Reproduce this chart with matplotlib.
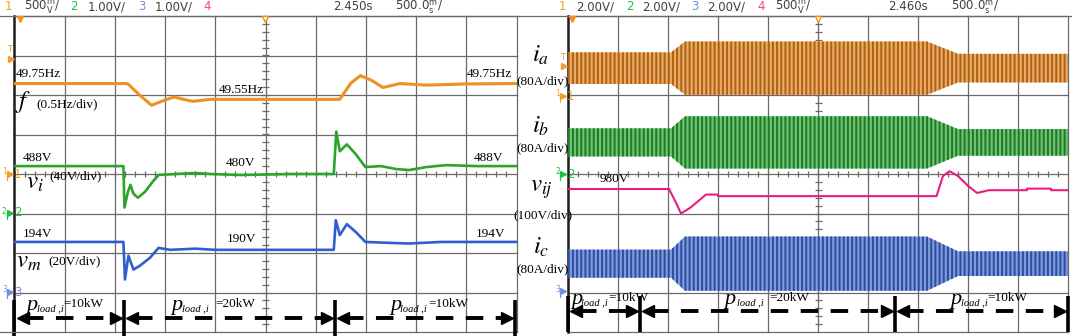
import numpy as np
import matplotlib.pyplot as plt

plt.rcParams['mathtext.fontset'] = 'stix'
plt.rcParams['font.family'] = 'Liberation Serif'
plt.rcParams['hatch.linewidth'] = 1.4

W, H = 1072, 336

# time is in screen divisions (500 ms/div, 10 div)
# left scope: frequency, inverter voltage, microgrid voltage
f_t = [0, 2.25, 2.5, 2.73, 2.95, 3.18, 3.4, 3.56, 3.9, 6.48, 6.7, 6.89, 7.1, 7.34, 7.68, 8.2, 9.0, 10]
f_hz = [49.75, 49.75, 49.6, 49.475, 49.53, 49.58, 49.545, 49.525, 49.55, 49.55, 49.755, 49.85,
        49.795, 49.70, 49.75, 49.73, 49.745, 49.75]

vi_t = [0, 2.17, 2.19, 2.26, 2.31, 2.37, 2.46, 2.6, 2.75, 2.87, 3.2, 3.6, 3.9, 4.5, 5.5, 6.36,
        6.41, 6.48, 6.62, 6.8, 6.99, 7.3, 7.6, 7.86, 8.2, 8.6, 9.2, 10]
vi_v = [488, 488, 446, 462, 469, 460, 456, 462, 472, 479, 480, 481, 480, 479, 480, 480,
        523, 503, 510, 500, 487, 488, 485, 484, 487, 489, 488, 488]

vm_t = [0, 2.17, 2.2, 2.27, 2.37, 2.5, 2.7, 2.87, 3.1, 3.6, 4.0, 6.36, 6.4, 6.48, 6.62, 6.8,
        6.99, 7.5, 7.86, 8.5, 10]
vm_v = [194, 194, 175, 187, 180, 182, 186, 191, 190, 190.6, 190, 190, 205, 197.5, 203, 199,
        194, 193.5, 193.2, 194, 194]

load_left = [0, 2.18, 6.39, 9.98]
load_left_kw = [10, 20, 10]

# right scope: phase currents (peak, A) and dc-link voltage
env_t = [0, 2.06, 2.34, 7.18, 7.8, 10]
ia_amp = [32, 32, 54, 54, 29, 29]
ib_amp = [28.5, 28.5, 53, 53, 27, 27]
ic_amp = [28.5, 28.5, 55, 55, 25, 25]

vij_t = [0, 2.02, 2.15, 2.26, 2.45, 2.76, 3.0, 3.0, 7.37, 7.5, 7.63, 7.8, 8.0, 8.18, 8.42,
         9.18, 9.18, 9.66, 9.66, 10]
vij_v = [980, 980, 948, 918, 933, 966, 966, 962, 962, 1013, 1025, 1013, 988, 970, 977,
         977, 981, 981, 977, 977]

load_right = [0, 1.44, 6.54, 10]
load_right_kw = [10, 20, 10]

# channel settings: (value, screen position in div, units per div)
f_ref = (49.75, 6.29, 0.5)
vi_ref = (488, 4.2, 40)
vm_ref = (194, 2.28, 20)
vij_ref = (980, 3.62, 100)
ia_pos, ib_pos, ic_pos = 6.68, 4.80, 1.73
amp_per_div = 80


def to_div(vals, ref):
    v0, d0, per = ref
    return d0 + (np.array(vals, dtype=float) - v0) / per


fig = plt.figure(figsize=(W / 100, H / 100), dpi=100)


def panel(x0, y0, x1, y1):
    return fig.add_axes([x0 / W, 1 - y1 / H, (x1 - x0) / W, (y1 - y0) / H])


def scope_grid(ax):
    ax.set_xlim(0, 10)
    ax.set_ylim(0, 8)
    ax.axis('off')
    gc = '#6a6a6a'
    for i in range(11):
        ax.plot([i, i], [0, 8], color=gc, lw=0.9, clip_on=False, zorder=1)
    for j in range(9):
        ax.plot([0, 10], [j, j], color=gc, lw=0.9, clip_on=False, zorder=1)
    ax.plot([0, 0], [0, 8], color='#202020', lw=1.8, clip_on=False, zorder=1)
    ax.vlines(np.arange(0.2, 10, 0.2), 3.93, 4.07, color=gc, lw=0.9, zorder=1)
    ax.hlines(np.arange(0.2, 8, 0.2), 4.93, 5.07, color=gc, lw=0.9, zorder=1)


def loads(ax, steps, y, ytop, ybot):
    for s in steps:
        ax.plot([s, s], [ybot, ytop], color='k', lw=2.6, clip_on=False, zorder=6,
                solid_capstyle='butt')
    for a, b in zip(steps[:-1], steps[1:]):
        ax.plot([a + 0.22, b - 0.22], [y, y], color='k', lw=2.8, ls=(0, (4.5, 3.2)),
                clip_on=False, zorder=6, dash_capstyle='butt')
        ax.plot(a + 0.16, y, marker='<', ms=9, color='k', clip_on=False, zorder=6)
        ax.plot(b - 0.16, y, marker='>', ms=9, color='k', clip_on=False, zorder=6)


axL = panel(14.5, 16, 516.5, 332)
axR = panel(568, 16, 1068, 332)
scope_grid(axL)
scope_grid(axR)

axL.plot(f_t, to_div(f_hz, f_ref), color='#f0901e', lw=2.2, zorder=3)
axL.plot(vi_t, to_div(vi_v, vi_ref), color='#2aa52a', lw=1.9, zorder=3)
axL.plot(vm_t, to_div(vm_v, vm_ref), color='#2f5fcf', lw=1.9, zorder=3)
loads(axL, load_left, 0.36, 0.8, -0.1)

for pos, amp, light, dark in [(ia_pos, ia_amp, '#e8ab68', '#b0600f'),
                              (ib_pos, ib_amp, '#70c270', '#1a7a25'),
                              (ic_pos, ic_amp, '#7f9cd8', '#2a4ca5')]:
    a = np.array(amp) / amp_per_div
    axR.fill_between(env_t, pos - a, pos + a, facecolor=light, edgecolor=dark,
                     hatch='||||', lw=0, zorder=3)
axR.plot(vij_t, to_div(vij_v, vij_ref), color='#ec1c7c', lw=1.5, zorder=4)
loads(axR, load_right, 0.52, 0.9, 0)

# overlay in pixel coordinates for the scope labels
ov = fig.add_axes([0, 0, 1, 1])
ov.set_xlim(0, W)
ov.set_ylim(H, 0)
ov.axis('off')
ov.plot([0, W], [16, 16], color='#6a6a6a', lw=0.9)
ov.plot([0, 14.5], [332, 332], color='#6a6a6a', lw=0.9)

hdr = dict(fontsize=8.5, va='center', ha='left', family=['Liberation Sans Narrow', 'DejaVu Sans'])
orange, green, blue, pink, grey = '#f0a030', '#22c040', '#7090e0', '#f04090', '#404040'
mv = r'500$\mathregular{^{m}_{V}}$/'
ms = r'500.0$\mathregular{^{m}_{s}}$/'
for x, s, c in [(5, '1', orange), (24, mv, grey), (70, '2', green), (88, '1.00V/', grey),
                (138, '3', blue), (155, '1.00V/', grey), (203, '4', pink),
                (333, '2.450s', grey), (395, ms, grey),
                (559, '1', orange), (576, '2.00V/', grey), (626, '2', green), (642, '2.00V/', grey),
                (691, '3', blue), (707, '2.00V/', grey), (757, '4', pink), (775, mv, grey),
                (888, '2.460s', grey), (951, ms, grey)]:
    ov.text(x, 7, s, color=c, **hdr)

# trigger / position markers
for x in (20, 572):
    ov.plot(x, 19, marker='v', ms=5, color='#f0901e')
for x in (265, 818):
    ov.plot(x, 19, marker='v', ms=5, mfc='white', mec='#f0901e')
for x, y in [(10, 50), (563, 57)]:
    ov.text(x, y, 'T', color=orange, fontsize=6, ha='center', va='center', family='DejaVu Sans')
    ov.plot(x + 1, y + 9, marker='>', ms=4, color=orange)


def chan_marker(x, y, num, color, big=True):
    ov.text(x, y - 2, num, color=color, fontsize=5.5, ha='left', va='center', family='DejaVu Sans')
    ov.plot(x + 8, y, marker='>', ms=4, color=color)
    ov.plot([x + 5, x + 5], [y, y + 6], color=color, lw=0.8)
    if big:
        ov.text(x + 12, y, num, color=color, fontsize=8.5, ha='left', va='center',
                family='DejaVu Sans')


chan_marker(2, 174, '1', orange)
chan_marker(2, 213, '2', green)
chan_marker(2, 292, '3', blue)
chan_marker(555, 96, '1', orange)
chan_marker(555, 174, '2', green)
chan_marker(555, 291, '3', blue, big=False)

lab = dict(fontsize=9.5, ha='left', va='center', color='k')
for x, y, s in [(15.5, 74, '49.75Hz'), (219, 90, '49.55Hz'), (467, 74, '49.75Hz'),
                (36, 104, '(0.5Hz/div)'),
                (23, 158, '488V'), (226, 163.5, '480V'), (474, 158, '488V'), (49, 176, '(40V/div)'),
                (23, 234, '194V'), (227, 239, '190V'), (476, 234, '194V'), (48, 261, '(20V/div)'),
                (600, 179, '980V')]:
    ov.text(x, y, s, **lab)

big = dict(fontsize=18, va='baseline', color='k')
ov.text(15, 108, r'$f$', ha='left', **big)
ov.text(26, 189, r'$v_i$', ha='left', **big)
ov.text(16, 268, r'$v_m$', ha='left', **big)
ov.text(541, 62, r'$i_a$', ha='center', **big)
ov.text(541, 133, r'$i_b$', ha='center', **big)
ov.text(541, 192, r'$v_{ij}$', ha='center', **big)
ov.text(541, 254, r'$i_c$', ha='center', **big)
for y, s in [(81, '(80A/div)'), (148, '(80A/div)'), (215, '(100V/div)'), (269, '(80A/div)')]:
    ov.text(543, y, s, fontsize=9.5, ha='center', va='center', color='k')


def pload(xp, xs, xv, y, kw):
    ov.text(xp, y + 6, 'p', fontsize=16, style='italic', ha='left', va='baseline')
    ov.text(xs, y + 7, 'load ,i', fontsize=7.5, style='italic', ha='left', va='baseline')
    ov.text(xv, y, '=%dkW' % kw, fontsize=9.5, ha='left', va='center')


for (xp, xs, xv), kw in zip([(26, 37, 63), (171, 182, 215), (390, 400, 428)], load_left_kw):
    pload(xp, xs, xv, 304, kw)
for (xp, xs, xv), kw in zip([(571, 581, 608), (724, 737, 769), (950, 961, 987)], load_right_kw):
    pload(xp, xs, xv, 298, kw)

fig.savefig('out.png', dpi=100)
